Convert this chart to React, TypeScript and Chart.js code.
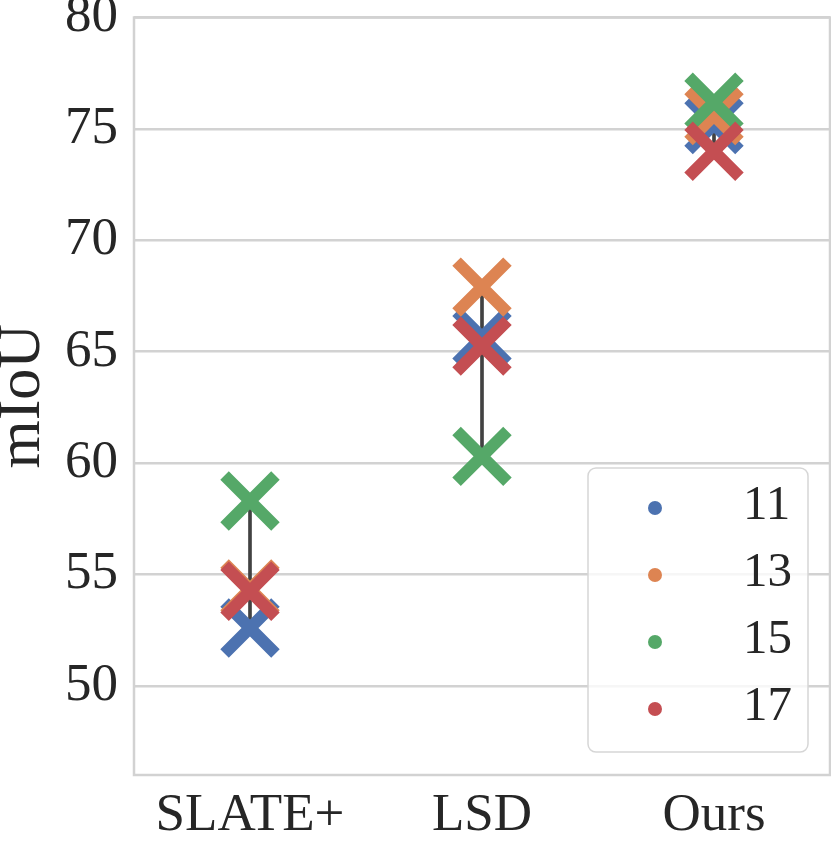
import React, { useEffect, useRef } from "react";
import { Chart, registerables } from "chart.js";

Chart.register(...registerables);

const methods = ["SLATE+", "LSD", "Ours"];
const seriesLabels = ["11", "13", "15", "17"];
const seriesColors = ["#4c72b0", "#dd8452", "#55a868", "#c44e52"];

const miou11 = [52.6, 65.65, 75.2];
const miou13 = [54.35, 67.9, 75.6];
const miou15 = [58.3, 60.3, 76.2];
const miou17 = [54.25, 65.25, 74.0];

const yTicks = [50, 55, 60, 65, 70, 75, 80];

const series = [miou11, miou13, miou15, miou17];

const FONT = "'Liberation Serif', 'Times New Roman', serif";
const TEXT = "#262626";
const GRID = "#d2d2d2";

// big markers would otherwise shrink the plot area (point overflow padding)
const noOverflow = {
  id: "noOverflow",
  beforeElementsUpdate(chart: Chart) {
    chart.data.datasets.forEach((_, i) => {
      const c: any = chart.getDatasetMeta(i).controller;
      if (c) c.getMaxOverflow = () => 0;
    });
  },
};

// box round the plot area, seaborn whitegrid style
const frame = {
  id: "frame",
  beforeDatasetsDraw(chart: Chart) {
    const { ctx, chartArea: a } = chart;
    ctx.save();
    ctx.strokeStyle = GRID;
    ctx.lineWidth = 2.5;
    ctx.strokeRect(a.left, a.top, a.right - a.left, a.bottom - a.top);
    ctx.restore();
  },
};

// matplotlib-like legend inside the plot, lower right
const legendBox = {
  id: "legendBox",
  afterDatasetsDraw(chart: Chart) {
    const { ctx, chartArea: a } = chart;
    const w = 220;
    const h = 284;
    const x = a.right - 22 - w;
    const y = a.bottom - 23 - h;
    ctx.save();
    ctx.beginPath();
    ctx.roundRect(x, y, w, h, 8);
    ctx.fillStyle = "rgba(255,255,255,0.8)";
    ctx.fill();
    ctx.lineWidth = 1.5;
    ctx.strokeStyle = "#d6d6d6";
    ctx.stroke();
    ctx.font = `49px ${FONT}`;
    ctx.textBaseline = "middle";
    ctx.textAlign = "left";
    seriesLabels.forEach((label, i) => {
      const cy = y + 40 + i * 67;
      ctx.beginPath();
      ctx.arc(x + 67, cy, 7, 0, Math.PI * 2);
      ctx.fillStyle = seriesColors[i];
      ctx.fill();
      ctx.fillStyle = TEXT;
      ctx.fillText(label, x + 155, cy - 2);
    });
    ctx.restore();
  },
};

const App = () => {
  const canvasRef = useRef<HTMLCanvasElement>(null);
  const chartRef = useRef<Chart | null>(null);

  useEffect(() => {
    document.body.style.margin = "0";
    if (!canvasRef.current) return;

    chartRef.current?.destroy();

    const ranges = methods.map((_, i) => {
      const vals = series.map((s) => s[i]);
      return [Math.min(...vals), Math.max(...vals)];
    });

    chartRef.current = new Chart(canvasRef.current, {
      type: "line",
      data: {
        labels: methods,
        datasets: [
          {
            type: "bar",
            data: ranges as any,
            backgroundColor: "#424242",
            borderWidth: 0,
            barThickness: 3,
            order: 5,
          } as any,
          ...series.map((values, i) => ({
            type: "line" as const,
            label: seriesLabels[i],
            data: values,
            showLine: false,
            pointStyle: "crossRot" as const,
            pointRadius: 36,
            pointHoverRadius: 36,
            pointBorderWidth: 12,
            pointHoverBorderWidth: 12,
            borderColor: seriesColors[i],
            backgroundColor: seriesColors[i],
            order: 4 - i,
            clip: false as any,
          })),
        ],
      },
      options: {
        responsive: true,
        maintainAspectRatio: false,
        animation: false,
        events: [],
        layout: {
          padding: { right: 1, top: 0, left: 0, bottom: 0 },
        },
        plugins: {
          legend: { display: false },
          tooltip: { enabled: false },
        },
        scales: {
          x: {
            type: "category",
            offset: true,
            grid: { display: false },
            border: { display: false },
            ticks: {
              color: TEXT,
              padding: 1,
              font: { family: FONT, size: 53, lineHeight: 1.2 },
            },
            afterFit: (scale) => {
              scale.height = 66;
            },
          },
          y: {
            min: 46,
            max: 80,
            afterBuildTicks: (scale) => {
              scale.ticks = yTicks.map((v) => ({ value: v }));
            },
            grid: {
              color: GRID,
              lineWidth: 2.5,
              drawTicks: false,
            },
            border: { display: false },
            ticks: {
              color: TEXT,
              padding: 16,
              // tiny line height keeps the top label from padding the plot down
              font: { family: FONT, size: 53, lineHeight: 0.057 },
            },
            title: {
              display: true,
              text: "mIoU",
              color: TEXT,
              padding: { top: 1, bottom: 0 },
              font: { family: FONT, size: 62, lineHeight: 0.7 },
            },
            afterFit: (scale) => {
              scale.width = 134;
            },
          },
        },
      },
      plugins: [noOverflow, frame, legendBox],
    });

    return () => {
      chartRef.current?.destroy();
      chartRef.current = null;
    };
  }, []);

  return (
    <div style={{ width: 831, height: 841, position: "relative" }}>
      <canvas ref={canvasRef} />
    </div>
  );
};

export default App;
